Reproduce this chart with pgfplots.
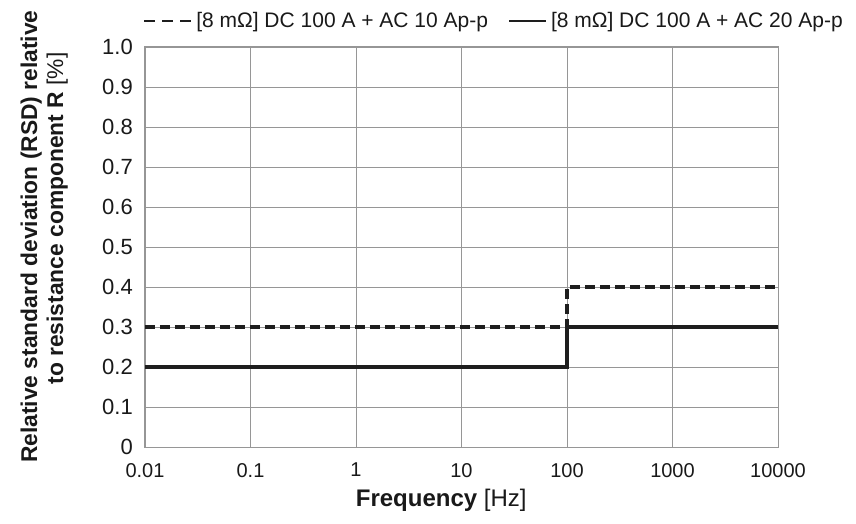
\documentclass[border=0pt]{standalone}
\usepackage{fontspec}
\setmainfont{Liberation Sans}
\usepackage{pgfplots}
\pgfplotsset{compat=1.18}
\definecolor{gridgray}{RGB}{150,150,150}
\definecolor{linecol}{RGB}{30,30,30}
\begin{document}
\begin{tikzpicture}
\begin{axis}[
  scale only axis,
  width=633pt, height=400pt,
  xmode=log,
  xmin=0.01, xmax=10000,
  ymin=0, ymax=1,
  xtick={0.01,0.1,1,10,100,1000,10000},
  xticklabels={0.01,0.1,1,10,100,1000,10000},
  ytick={0,0.1,0.2,0.3,0.4,0.5,0.6,0.7,0.8,0.9,1.0},
  yticklabels={0,0.1,0.2,0.3,0.4,0.5,0.6,0.7,0.8,0.9,1.0},
  minor xtick={},
  major tick length=0pt, minor tick length=0pt,
  grid=major,
  major grid style={gridgray, line width=0.9pt},
  axis line style={gridgray, line width=1pt},
  xticklabel style={font=\fontsize{20}{22}\selectfont, text=black!90, inner sep=0pt, anchor=north, yshift=-16pt},
  yticklabel style={font=\fontsize{22}{24}\selectfont, text=black!90, inner sep=0pt, anchor=east, xshift=-12pt},
  xlabel={\textbf{Frequency} [Hz]},
  xlabel style={font=\fontsize{24}{26}\selectfont, text=black!90, inner sep=0pt, at={(rel axis cs:0.468,0)}, anchor=north, yshift=-42pt},
  ylabel={\textbf{Relative standard deviation (RSD) relative}\\\hspace*{36pt}\textbf{to resistance component R} [\%]},
  ylabel style={font=\fontsize{22.8}{26}\selectfont, text=black!90, align=center, inner sep=0pt, at={(rel axis cs:-0.1216,0.526)}, anchor=south},
  legend style={draw=none, fill=none, font=\fontsize{21}{23}\selectfont, text=black!90,
    inner sep=0pt, at={(rel axis cs:-0.003,1.065)}, anchor=west,
    nodes={inner sep=0pt},
    /tikz/every odd column/.append style={column sep=4pt},
    /tikz/every even column/.append style={column sep=20pt}},
  legend columns=2,
]
\addplot[linecol, line width=3.2pt, dash pattern=on 10pt off 5pt,
  legend image code/.code={\draw[linecol, line width=2pt, dash pattern=on 11pt off 7pt] (0pt,0pt) -- (47pt,0pt);}]
  coordinates {(0.01,0.3) (100,0.3) (100,0.4) (10000,0.4)};
\addlegendentry{[8 mΩ] DC 100 A + AC 10 Ap-p}
\addplot[linecol, line width=3.2pt,
  legend image code/.code={\draw[linecol, line width=2pt] (0pt,0pt) -- (37pt,0pt);}]
  coordinates {(0.01,0.2) (100,0.2) (100,0.3) (10000,0.3)};
\addlegendentry{[8 mΩ] DC 100 A + AC 20 Ap-p}
\coordinate (sw) at (rel axis cs:0,0);
\coordinate (ne) at (rel axis cs:1,1);
\end{axis}
\pgfresetboundingbox
\path ([xshift=-145pt,yshift=-77pt]sw) rectangle ([xshift=78pt,yshift=47pt]ne);
\end{tikzpicture}
\end{document}
